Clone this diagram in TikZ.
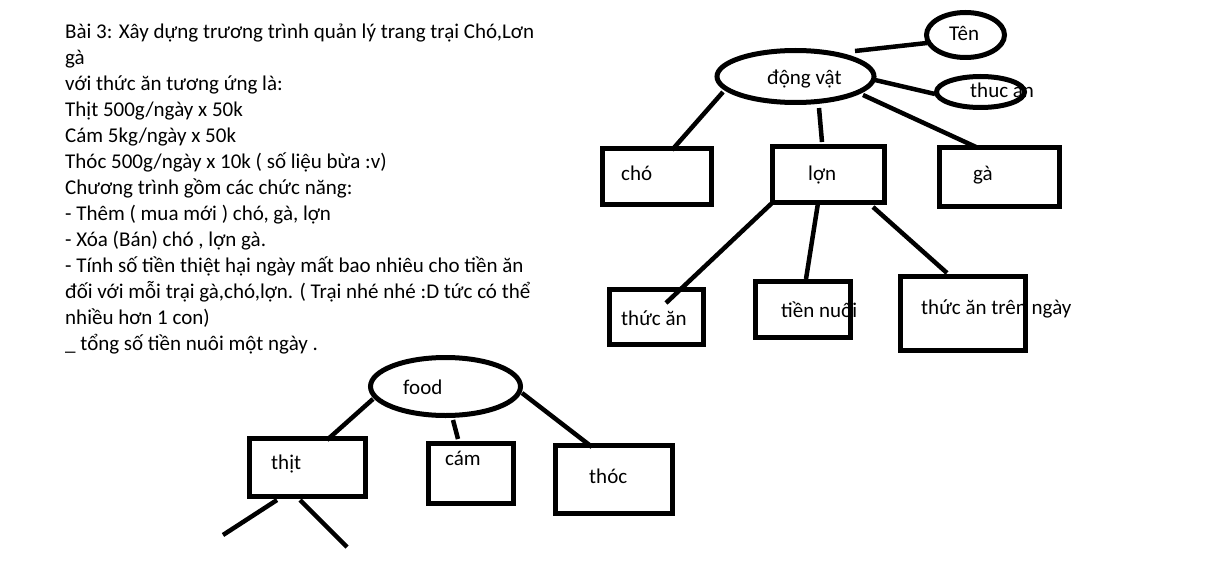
\documentclass[tikz,border=0pt]{standalone}
\usepackage{fontspec}
\setmainfont{Carlito}
\usetikzlibrary{shapes.geometric}
\begin{document}
\begin{tikzpicture}[x=1pt,y=-1pt,
  txt/.style={anchor=base west,inner sep=0pt,font=\fontsize{21}{26}\selectfont},
  box/.style={draw,line width=5pt,rectangle,inner sep=0pt},
  oval/.style={draw,line width=5pt,ellipse,inner sep=0pt},
  link/.style={line width=4.5pt}]
\fill[white] (0,0) rectangle (1220,583);
\useasboundingbox (0,0) rectangle (1220,583);
% problem text
\node[anchor=north west,inner sep=0pt,align=left,font=\fontsize{21}{26}\selectfont] (task) at (65,18) {\rule{0pt}{20pt}Bài 3: Xây dựng trương trình quản lý trang trại Chó,Lơn\\
gà\\
với thức ăn tương ứng là:\\
Thịt 500g/ngày x 50k\\
Cám 5kg/ngày x 50k\\
Thóc 500g/ngày x 10k ( số liệu bừa :v)\\
Chương trình gồm các chức năng:\\
- Thêm ( mua mới ) chó, gà, lợn\\
- Xóa (Bán) chó , lợn gà.\\
- Tính số tiền thiệt hại ngày mất bao nhiêu cho tiền ăn\\
đối với mỗi trại gà,chó,lợn. ( Trại nhé nhé :D tức có thể\\
nhiều hơn 1 con)\\
\_ tổng số tiền nuôi một ngày .};
% labels
\node[txt] (tten) at (949,41) {Tên};
\node[txt] (tdv) at (767,85) {động vật};
\node[txt] (ttha) at (970,98) {thuc ăn};
\node[txt] (tcho) at (621,180) {chó};
\node[txt] (tlon) at (808,180) {lợn};
\node[txt] (tga) at (973,180) {gà};
\node[txt] (tta) at (621,325) {thức ăn};
\node[txt] (ttn) at (781,317) {tiền nuôi};
\node[txt] (tttn) at (921,314) {thức ăn trên ngày};
\node[txt] (tfood) at (403,394) {food};
\node[txt] (tthit) at (271,469) {thịt};
\node[txt] (tcam) at (445,465) {cám};
\node[txt] (tthoc) at (589,483) {thóc};
% shapes
\node[oval,minimum width=157pt,minimum height=52pt] (dv) at (795.5,76.5) {};
\node[oval,minimum width=78pt,minimum height=45pt] (ten) at (965.5,35) {};
\node[oval,minimum width=88pt,minimum height=31pt] (tha) at (980.5,92) {};
\node[oval,minimum width=150pt,minimum height=58pt] (food) at (445.5,386.5) {};
\node[box,minimum width=109pt,minimum height=56pt] (cho) at (657,176.5) {};
\node[box,minimum width=112pt,minimum height=56pt] (lon) at (828.5,174.5) {};
\node[box,minimum width=120pt,minimum height=59pt] (ga) at (999.5,177) {};
\node[box,minimum width=94pt,minimum height=55pt] (ta) at (656.5,317) {};
\node[box,minimum width=95pt,minimum height=56pt] (tn) at (803,309.5) {};
\node[box,minimum width=125pt,minimum height=74pt] (ttn) at (963,313.5) {};
\node[box,minimum width=116pt,minimum height=58pt] (thit) at (307.5,467.5) {};
\node[box,minimum width=85pt,minimum height=60pt] (cam) at (471,473.5) {};
\node[box,minimum width=117pt,minimum height=68pt] (thoc) at (614,479.5) {};
\coordinate (e1) at (223,535);
\coordinate (e2) at (347,547);
% connectors
\draw[link] ([shift={(59.5,-25.5)}]dv.center) -- ([shift={(-38.5,8)}]ten.center);
\draw[link] ([shift={(79.5,3.5)}]dv.center) -- ([shift={(-45.5,2)}]tha.center);
\draw[link] ([shift={(-72.5,15.5)}]dv.center) -- ([shift={(15,-26.5)}]cho.center);
\draw[link] ([shift={(23.5,31.5)}]dv.center) -- ([shift={(-6.5,-32.5)}]lon.center);
\draw[link] ([shift={(67.5,18.5)}]dv.center) -- ([shift={(-23.5,-30)}]ga.center);
\draw[link] ([shift={(-56.5,28.5)}]lon.center) -- ([shift={(9.5,-14)}]ta.center);
\draw[link] ([shift={(-10.5,28.5)}]lon.center) -- ([shift={(3,-30.5)}]tn.center);
\draw[link] ([shift={(44.5,32.5)}]lon.center) -- ([shift={(-16,-40.5)}]ttn.center);
\draw[link] ([shift={(-72.5,12.5)}]food.center) -- ([shift={(19.5,-27.5)}]thit.center);
\draw[link] ([shift={(7.5,33.5)}]food.center) -- ([shift={(-13,-34.5)}]cam.center);
\draw[link] ([shift={(76.5,6.5)}]food.center) -- ([shift={(-22,-32.5)}]thoc.center);
\draw[link] ([shift={(-30.5,32.5)}]thit.center) -- (e1);
\draw[link] ([shift={(-7.5,32.5)}]thit.center) -- (e2);
\end{tikzpicture}
\end{document}
